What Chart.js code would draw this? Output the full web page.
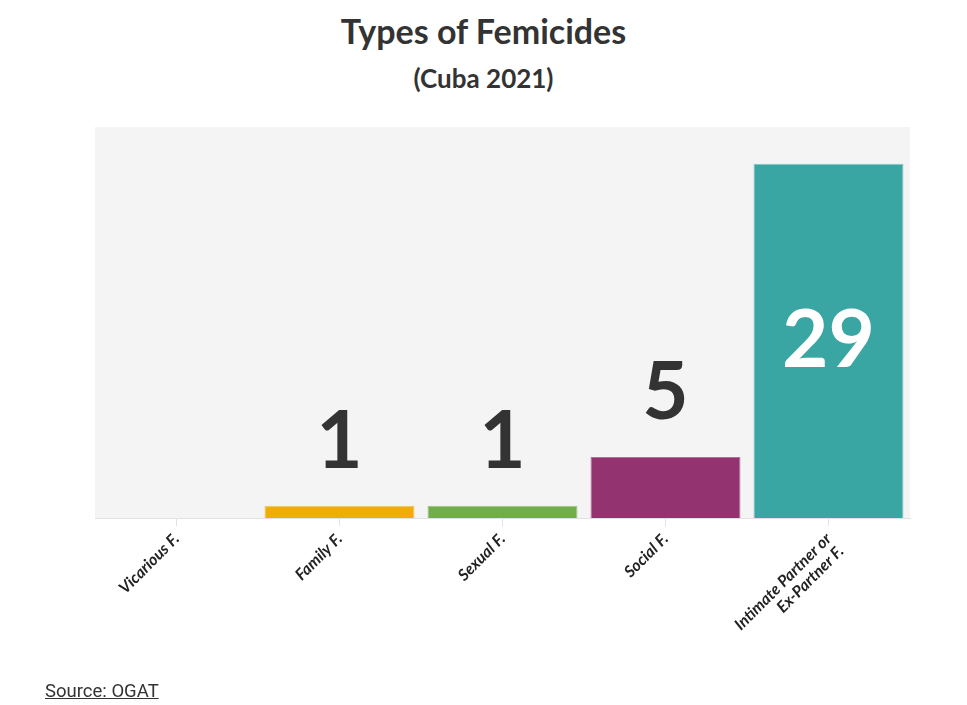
<!DOCTYPE html>
<html>
<head>
<meta charset="utf-8">
<title>Types of Femicides</title>
<script src="https://cdn.jsdelivr.net/npm/chart.js@4.4.0/dist/chart.umd.min.js"></script>
<style>
  body { margin: 0; background: #fff; }
  #contenedor { position: relative; width: 967px; height: 705px; }
  #grafica { position: absolute; left: 0; top: 0; }
  .titulo {
    position: absolute; left: 0; width: 967px; text-align: center;
    font-family: Lato, sans-serif; font-weight: bold; color: #333; margin: 0;
  }
  #titulo { top: 10px; font-size: 34px; }
  #subtitulo { top: 62px; font-size: 26px; }
  #fuente {
    position: absolute; left: 45px; top: 680px;
    font-family: Roboto, sans-serif; font-size: 18.5px; color: #333;
    text-decoration: underline;
  }
</style>
</head>
<body>
<div id="contenedor">
  <div id="titulo" class="titulo">Types of Femicides</div>
  <div id="subtitulo" class="titulo">(Cuba 2021)</div>
  <canvas id="grafica" width="967" height="705"></canvas>
  <div id="fuente">Source: OGAT</div>
</div>
<script>
const categorias = [
  "Vicarious F.",
  "Family F.",
  "Sexual F.",
  "Social F.",
  ["Intimate Partner or", "Ex-Partner F."],
];
const valores = [0, 1, 1, 5, 29];
const colores = ["#cccccc", "#f0ad0a", "#71ad4a", "#93336f", "#39a6a4"];
const bordes = ["#dddddd", "#f5c85a", "#9cc87f", "#b56e9a", "#7cc6c4"];

// fondo gris del area de la grafica
const fondoArea = {
  id: "fondoArea",
  beforeDraw(chart) {
    const { ctx, chartArea } = chart;
    ctx.save();
    ctx.fillStyle = "#f4f4f4";
    ctx.fillRect(chartArea.left, chartArea.top, chartArea.right - chartArea.left, chartArea.bottom - chartArea.top);
    ctx.restore();
  },
};

// numeros grandes sobre / dentro de las barras
const etiquetas = {
  id: "etiquetas",
  afterDatasetsDraw(chart) {
    const { ctx } = chart;
    const meta = chart.getDatasetMeta(0);
    ctx.save();
    ctx.font = "bold 80px Lato, sans-serif";
    ctx.textAlign = "center";
    ctx.textBaseline = "middle";
    meta.data.forEach((barra, i) => {
      const valor = valores[i];
      if (!valor) return;
      if (valor > 10) {
        ctx.fillStyle = "#ffffff";
        ctx.fillText(String(valor), barra.x, (barra.y + barra.base) / 2);
      } else {
        ctx.fillStyle = "#333333";
        ctx.fillText(String(valor), barra.x, barra.y - 64);
      }
    });
    ctx.restore();
  },
};

function configuracionDeLaGrafica() {
  return {
    type: "bar",
    data: {
      labels: categorias,
      datasets: [
        {
          data: valores,
          backgroundColor: colores,
          borderColor: bordes,
          borderWidth: 1,
          categoryPercentage: 1,
          barPercentage: 0.92,
        },
      ],
    },
    options: {
      responsive: false,
      animation: false,
      layout: { padding: { left: 95, right: 57, top: 127, bottom: 0 } },
      plugins: {
        legend: { display: false },
        tooltip: { enabled: false },
      },
      scales: {
        y: { display: false, min: 0, max: 32 },
        x: {
          afterFit(scale) {
            scale.height = 187;
          },
          border: { display: true, color: "#e2e2e2", width: 1 },
          grid: {
            offset: false,
            drawOnChartArea: false,
            drawTicks: true,
            tickLength: 8,
            color: "#e2e2e2",
          },
          ticks: {
            minRotation: 45,
            maxRotation: 45,
            padding: 4,
            color: "#222",
            font: { family: "Lato, sans-serif", size: 16, weight: "bold", style: "italic", lineHeight: 1.1 },
          },
        },
      },
    },
    plugins: [fondoArea, etiquetas],
  };
}

const graficaDOM = document.querySelector("#grafica");
const grafica = new Chart(graficaDOM, configuracionDeLaGrafica());
</script>
</body>
</html>
